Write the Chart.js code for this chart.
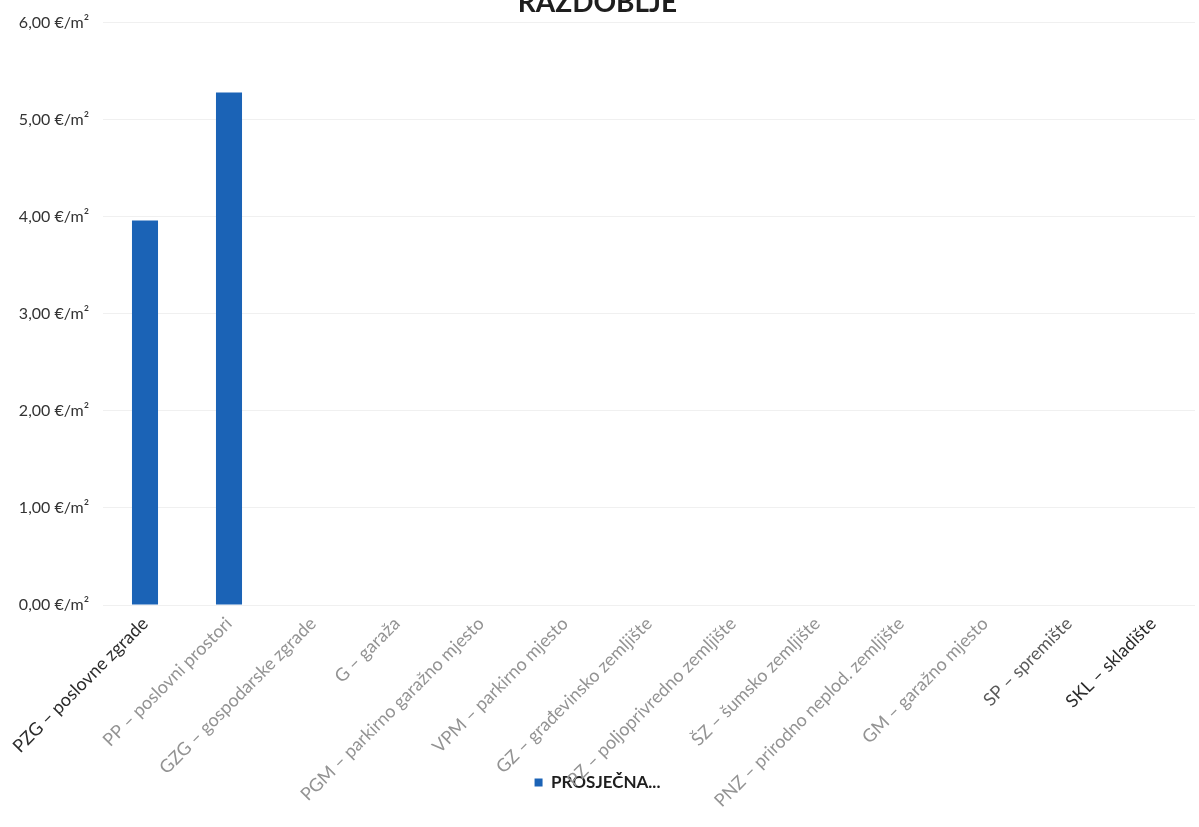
<!DOCTYPE html>
<html>
<head>
<meta charset="utf-8">
<script src="https://cdn.jsdelivr.net/npm/chart.js@4"></script>
<style>
  html, body { margin: 0; padding: 0; background: #fff; overflow: hidden; }
  #wrap { position: absolute; left: 0; top: -30px; width: 1199px; height: 857px; }
</style>
</head>
<body>
<div id="wrap"><canvas id="chart"></canvas></div>
<script>
// data
var categories = [
  'PZG – poslovne zgrade',
  'PP – poslovni prostori',
  'GZG – gospodarske zgrade',
  'G – garaža',
  'PGM – parkirno garažno mjesto',
  'VPM – parkirno mjesto',
  'GZ – građevinsko zemljište',
  'PZ – poljoprivredno zemljište',
  'ŠZ – šumsko zemljište',
  'PNZ – prirodno neplod. zemljište',
  'GM – garažno mjesto',
  'SP – spremište',
  'SKL – skladište'
];
var prosjecna = [3.96, 5.28, null, null, null, null, null, null, null, null, null, null, null];
var seriesName = 'PROSJEČNA...';
var titleText = 'RAZDOBLJE';

// the scan left some labels darker than others
var tickColors = ['#2b2b2b', '#939393', '#939393', '#939393', '#939393', '#939393',
  '#939393', '#939393', '#939393', '#939393', '#939393', '#5a5a5a', '#2b2b2b'];

// x labels run down into the legend like in the original, so don't clip them to the axis box
var unclipLabels = {
  id: 'unclipLabels',
  afterLayout: function(chart) {
    chart.scales.x.bottom = chart.height;
  }
};

var ctx = document.getElementById('chart').getContext('2d');
var chart = new Chart(ctx, {
  type: 'bar',
  data: {
    labels: categories,
    datasets: [{
      label: seriesName,
      data: prosjecna,
      backgroundColor: '#1b63b6',
      barPercentage: 0.31,
      categoryPercentage: 1.0
    }]
  },
  options: {
    responsive: true,
    maintainAspectRatio: false,
    animation: false,
    layout: { padding: { left: 0, right: 4, top: 0, bottom: 26 } },
    plugins: {
      title: {
        display: true,
        text: titleText,
        color: '#1e1e1e',
        font: { family: 'Lato', size: 28, weight: 'bold' },
        padding: { top: 16, bottom: 3 }
      },
      legend: {
        position: 'bottom',
        labels: {
          color: '#1e1e1e',
          font: { family: 'Lato', size: 17, weight: 'bold' },
          boxWidth: 8,
          boxHeight: 8,
          padding: 10
        }
      },
      tooltip: { enabled: false }
    },
    scales: {
      x: {
        grid: { display: false },
        border: { display: false },
        ticks: {
          autoSkip: false,
          minRotation: 45,
          maxRotation: 45,
          padding: 0,
          color: tickColors,
          font: { family: 'Lato', size: 18 }
        },
        afterFit: function(scale) { scale.height = 159; }
      },
      y: {
        min: 0,
        max: 6,
        grid: { color: '#f0f0f0', drawTicks: false },
        border: { display: false },
        ticks: {
          stepSize: 1,
          padding: 14,
          color: '#333333',
          font: { family: 'Lato', size: 16 },
          callback: function(v) { return v.toFixed(2).replace('.', ',') + ' €/m²'; }
        },
        afterFit: function(scale) { scale.width = 103; }
      }
    }
  },
  plugins: [unclipLabels]
});
</script>
</body>
</html>
